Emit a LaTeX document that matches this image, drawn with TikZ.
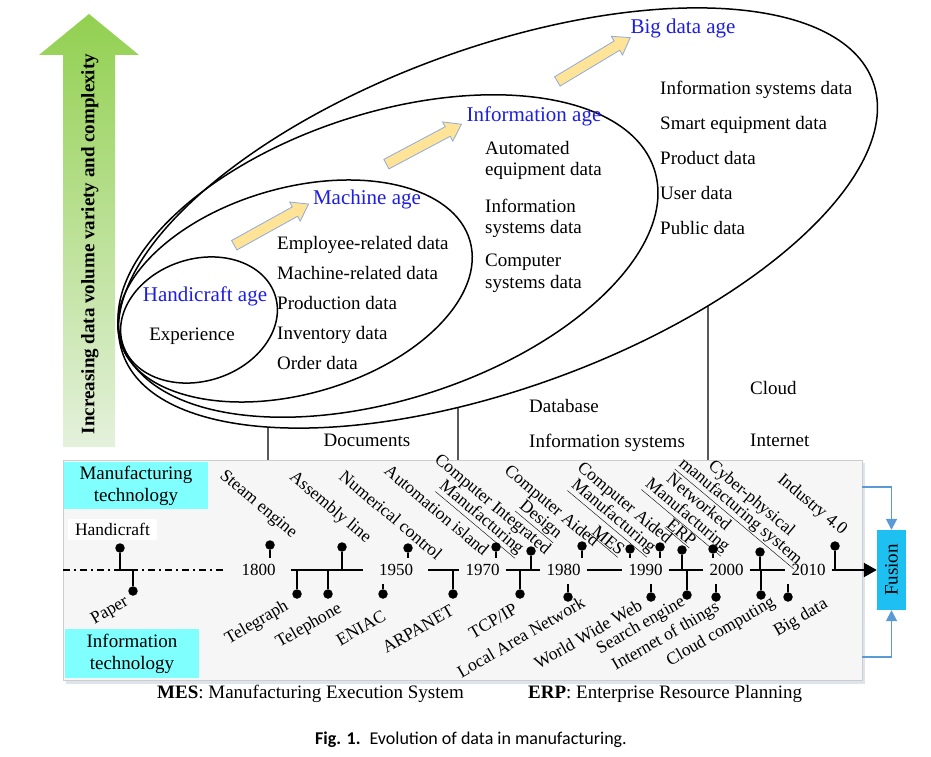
\documentclass[tikz,border=0pt]{standalone}
\usepackage{fontspec}
\usepackage{graphicx}
\setmainfont{Liberation Serif}
\newfontfamily\captionfont{Carlito}
\usetikzlibrary{shapes.arrows,arrows.meta,intersections}

\definecolor{ageblue}{RGB}{30,30,225}
\definecolor{techcyan}{RGB}{128,255,255}
\definecolor{fusioncyan}{RGB}{30,192,242}
\definecolor{feedblue}{RGB}{91,155,213}
\definecolor{stepfill}{RGB}{255,227,150}
\definecolor{stepedge}{RGB}{143,170,220}
\definecolor{panelfill}{RGB}{246,246,246}
\definecolor{paneledge}{RGB}{205,205,205}
\definecolor{panelshade}{RGB}{222,228,236}
\definecolor{trendtop}{RGB}{146,208,80}
\definecolor{trendbottom}{RGB}{228,241,220}

\tikzset{
  eraline/.style={line width=1.5pt},
  eralink/.style={line width=1.3pt},
  agename/.style={text=ageblue, font=\fontsize{21}{24}\selectfont, inner sep=0pt},
  plaintext/.style={font=\fontsize{19}{22}\selectfont, inner sep=0pt},
  datalist/.style={font=\fontsize{19}{#1}\selectfont, align=left, anchor=west, inner sep=0pt},
  datalist/.default=21,
  agestep/.style={single arrow, draw=stepedge, fill=stepfill, line width=0.8pt,
    inner sep=5pt, single arrow head extend=5.5pt, single arrow tip angle=70,
    minimum height=85pt},
  techbox/.style={fill=techcyan, font=\fontsize{19}{22}\selectfont, align=center, inner sep=0pt},
  eventup/.style={rotate=-40, font=\fontsize{17.5}{17}\selectfont, align=center, inner sep=0pt},
  eventdown/.style={rotate=30, font=\fontsize{17.5}{17}\selectfont, inner sep=0pt},
  yearmark/.style={font=\fontsize{17}{20}\selectfont, inner xsep=6pt, inner ysep=0pt},
  pindot/.style={circle, fill, inner sep=0pt, minimum size=9.5pt},
  stem/.style={line width=2pt},
  axisline/.style={line width=2.2pt},
  feedline/.style={feedblue, line width=1.8pt, -{Triangle[length=11pt,width=11pt]}},
}

\begin{document}
\begin{tikzpicture}[x=1pt,y=-1pt]
\useasboundingbox (0,0) rectangle (931,757);
\fill[white] (0,0) rectangle (931,757);

% growth arrow
\shade[top color=trendtop, bottom color=trendbottom]
  (63,447) -- (63,55) -- (39,55) -- (89,14) -- (139,55) -- (115,55) -- (115,447) -- cycle;
\node[rotate=90, font=\bfseries\fontsize{19}{22}\selectfont, inner sep=0pt] (trend) at (90,244)
  {Increasing data volume variety and complexity};

% ages
\draw[eraline, rotate around={18:(199,320)}] (199,320) ellipse [x radius=80pt, y radius=61pt];
\draw[eraline, rotate around={16:(295,291)}] (295,291) ellipse [x radius=182pt, y radius=103pt];
\draw[eraline, rotate around={18:(388,256)}] (388,256) ellipse [x radius=280pt, y radius=143pt];
\draw[eraline, name path=bigcurve, rotate around={20:(498,218)}] (498,218) ellipse [x radius=399pt, y radius=170pt];

\node[agestep, rotate=29] (step1) at (268,226.5) {};
\node[agestep, rotate=28] (step2) at (420.5,146) {};
\node[agestep, rotate=31] (step3) at (590.5,61.5) {};

\node[agename] (handage) at (205,296) {Handicraft age};
\node[plaintext] (handexp) at (192,336) {Experience};

\node[agename] (machage) at (367,199) {Machine age};
\node[datalist=30] (machdata) at (277,303)
  {Employee-related data\\Machine-related data\\Production data\\Inventory data\\Order data};

\node[agename] (infoage) at (534,116) {Information age};
\node[datalist] (infodata1) at (485,160) {Automated\\equipment data};
\node[datalist] (infodata2) at (485,218) {Information\\systems data};
\node[datalist=22] (infodata3) at (485,273) {Computer\\systems data};

\node[agename] (bigage) at (683,28) {Big data age};
\node[datalist=35] (bigdata) at (660,158)
  {Information systems data\\Smart equipment data\\Product data\\User data\\Public data};

% carriers between ages and timeline
\node[plaintext] (docs) at (367,440) {Documents};
\node[plaintext, anchor=west] (dbase) at (529,406) {Database};
\node[plaintext, anchor=west] (infosys) at (529,443) {Information systems};
\node[plaintext, anchor=west] (cloud) at (750,388) {Cloud};
\node[plaintext, anchor=west] (internet) at (750,440) {Internet};

\coordinate (linkA) at (268,460);
\coordinate (linkB) at (458,460);
\coordinate (linkC) at (708,460);
\path[name path=cutA] (linkA) -- (268,200);
\path[name path=cutB] (linkB) -- (458,200);
\path[name path=cutC] (linkC) -- (708,200);
\path[name intersections={of=bigcurve and cutA, by=eraA}];
\path[name intersections={of=bigcurve and cutB, by=eraB}];
\path[name intersections={of=bigcurve and cutC, by=eraC}];
\draw[eralink] (eraA) -- (linkA);
\draw[eralink] (eraB) -- (linkB);
\draw[eralink] (eraC) -- (linkC);

% timeline panel
\fill[panelshade] (66,463) rectangle (865,684);
\draw[fill=panelfill, draw=paneledge, line width=1pt] (63,460) rectangle (862,680);
\node[techbox, minimum width=144pt, minimum height=47pt] (mfgtech) at (136,485.5) {Manufacturing\\technology};
\node[techbox, minimum width=134pt, minimum height=49pt] (ittech) at (132,653.5) {Information\\technology};
\node[fill=white, font=\fontsize{17.5}{20}\selectfont, minimum width=89pt, minimum height=21pt, inner sep=0pt] (handbox) at (112.5,529) {Handicraft};

\node[yearmark] (y1800) at (258.5,570) {1800};
\node[yearmark] (y1950) at (396,570) {1950};
\node[yearmark] (y1970) at (482.5,570) {1970};
\node[yearmark] (y1980) at (563.5,570) {1980};
\node[yearmark] (y1990) at (645.5,570) {1990};
\node[yearmark] (y2000) at (726.5,570) {2000};
\node[yearmark] (y2010) at (808.5,570) {2010};

\node[fill=fusioncyan, minimum width=29pt, minimum height=80pt, inner sep=0pt,
  font=\fontsize{19}{22}\selectfont] (fusion) at (891.5,570) {\rotatebox{90}{Fusion}};

\coordinate (axisstart) at (63,570);
\coordinate (handfoot) at (120,570);
\coordinate (paperfoot) at (133,570);
\draw[axisline, dash pattern=on 7pt off 4pt on 2pt off 4pt] (axisstart) -- ([xshift=-11pt]y1800.west);
\draw[axisline] (handfoot) -- (paperfoot);
\draw[axisline, shorten <=9pt, shorten >=10pt] (y1800) -- (y1950);
\draw[axisline, shorten <=9pt] (y1950) -- (y1970);
\draw[axisline] (y1970) -- (y1980);
\draw[axisline] (y1980) -- (y1990);
\draw[axisline] (y1990) -- (y2000);
\draw[axisline] (y2000) -- (y2010);
\draw[axisline, -{Triangle[length=13pt,width=14pt]}] (y2010) -- (fusion);

\coordinate (feedtop) at (862,487);
\coordinate (feedbottom) at (862,657);
\draw[feedline] (feedtop) -| (fusion.north);
\draw[feedline] (feedbottom) -| (fusion.south);

% manufacturing technology events
\node[pindot] (mhand) at (120,548) {}; \draw[stem] (mhand) -- (handfoot);
\node[pindot] (msteam) at (270,545) {}; \coordinate (msteamft) at (270,558); \draw[stem] (msteam) -- (msteamft);
\node[pindot] (massembly) at (342,547) {}; \coordinate (massemblyft) at (342,570); \draw[stem] (massembly) -- (massemblyft);
\node[pindot] (mnumctrl) at (408,548) {}; \coordinate (mnumctrlft) at (408,558); \draw[stem] (mnumctrl) -- (mnumctrlft);
\node[pindot] (mautoisl) at (496,547) {}; \coordinate (mautoislft) at (496,558); \draw[stem] (mautoisl) -- (mautoislft);
\node[pindot] (mcim) at (531,551) {}; \coordinate (mcimft) at (531,570); \draw[stem] (mcim) -- (mcimft);
\node[pindot] (mcad) at (582,546) {}; \coordinate (mcadft) at (582,558); \draw[stem] (mcad) -- (mcadft);
\node[pindot] (mmes) at (630,549) {}; \coordinate (mmesft) at (630,558); \draw[stem] (mmes) -- (mmesft);
\node[pindot] (mcam) at (660,547) {}; \coordinate (mcamft) at (660,558); \draw[stem] (mcam) -- (mcamft);
\node[pindot] (merp) at (682,550) {}; \coordinate (merpft) at (682,570); \draw[stem] (merp) -- (merpft);
\node[pindot] (mnetmfg) at (713,549) {}; \coordinate (mnetmfgft) at (713,558); \draw[stem] (mnetmfg) -- (mnetmfgft);
\node[pindot] (mcps) at (760,552) {}; \coordinate (mcpsft) at (760,570); \draw[stem] (mcps) -- (mcpsft);
\node[pindot] (mindustry) at (835,546) {}; \coordinate (mindustryft) at (835,570); \draw[stem] (mindustry) -- (mindustryft);

\node[eventup] (lsteam) at (258,505) {Steam engine};
\node[eventup] (lassembly) at (330,508) {Assembly line};
\node[eventup] (lnumctrl) at (391,515) {Numerical control};
\node[eventup] (lautoisl) at (437,510) {Automation island};
\node[eventup] (lcim) at (486,512) {Computer Integrated\\\underline{Manufacturing}};
\node[eventup] (lcad) at (545,514) {Computer Aided\\\underline{Design}};
\node[eventup] (lmes) at (608,541) {\underline{MES}};
\node[eventup] (lcam) at (618,511) {Computer Aided\\\underline{Manufacturing}};
\node[eventup] (lerp) at (681,533) {\underline{ERP}};
\node[eventup] (lnetmfg) at (692,510) {Networked\\\underline{Manufacturing}};
\node[eventup] (lcps) at (745,506) {Cyber-physical\\\underline{manufacturing system}};
\node[eventup] (lindustry) at (812,505) {Industry 4.0};

% information technology events
\node[pindot] (ipaper) at (133,591) {}; \draw[stem] (paperfoot) -- (ipaper);
\node[pindot] (itelegraph) at (297,594) {}; \coordinate (itelegraphft) at (297,570); \draw[stem] (itelegraphft) -- (itelegraph);
\node[pindot] (itelephone) at (328,594) {}; \coordinate (itelephoneft) at (328,570); \draw[stem] (itelephoneft) -- (itelephone);
\node[pindot] (ieniac) at (383,594) {}; \coordinate (ieniacft) at (383,584); \draw[stem] (ieniacft) -- (ieniac);
\node[pindot] (iarpanet) at (453,594) {}; \coordinate (iarpanetft) at (453,570); \draw[stem] (iarpanetft) -- (iarpanet);
\node[pindot] (itcpip) at (520,594) {}; \coordinate (itcpipft) at (520,570); \draw[stem] (itcpipft) -- (itcpip);
\node[pindot] (ilan) at (568,597) {}; \coordinate (ilanft) at (568,584); \draw[stem] (ilanft) -- (ilan);
\node[pindot] (iwww) at (651,597) {}; \coordinate (iwwwft) at (651,584); \draw[stem] (iwwwft) -- (iwww);
\node[pindot] (isearch) at (687,595) {}; \coordinate (isearchft) at (687,570); \draw[stem] (isearchft) -- (isearch);
\node[pindot] (iiot) at (716,597) {}; \coordinate (iiotft) at (716,584); \draw[stem] (iiotft) -- (iiot);
\node[pindot] (icloud) at (761,595) {}; \coordinate (icloudft) at (761,570); \draw[stem] (icloudft) -- (icloud);
\node[pindot] (ibigdata) at (788,597) {}; \coordinate (ibigdataft) at (788,584); \draw[stem] (ibigdataft) -- (ibigdata);

\node[eventdown] (lpaper) at (110,611) {Paper};
\node[eventdown] (ltelegraph) at (257,623) {Telegraph};
\node[eventdown] (ltelephone) at (309,626) {Telephone};
\node[eventdown] (leniac) at (361,628) {ENIAC};
\node[eventdown] (larpanet) at (418,629) {ARPANET};
\node[eventdown] (ltcpip) at (493,621) {TCP/IP};
\node[eventdown] (llan) at (521,637) {Local Area Network};
\node[eventdown] (lwww) at (588,634) {World Wide Web};
\node[eventdown] (lsearch) at (641,626) {Search engine};
\node[eventdown] (liot) at (666,637) {Internet of things};
\node[eventdown] (lcloud) at (721,632) {Cloud computing};
\node[eventdown] (lbigdata) at (801,618) {Big data};

% notes and caption
\node[plaintext, anchor=west] (mesnote) at (157,694) {\textbf{MES}: Manufacturing Execution System};
\node[plaintext, anchor=west] (erpnote) at (528,694) {\textbf{ERP}: Enterprise Resource Planning};
\node[font=\captionfont\fontsize{18}{21}\selectfont, inner sep=0pt] (caption) at (471,740)
  {\textbf{Fig. 1.}\enspace Evolution of data in manufacturing.};

\end{tikzpicture}
\end{document}
